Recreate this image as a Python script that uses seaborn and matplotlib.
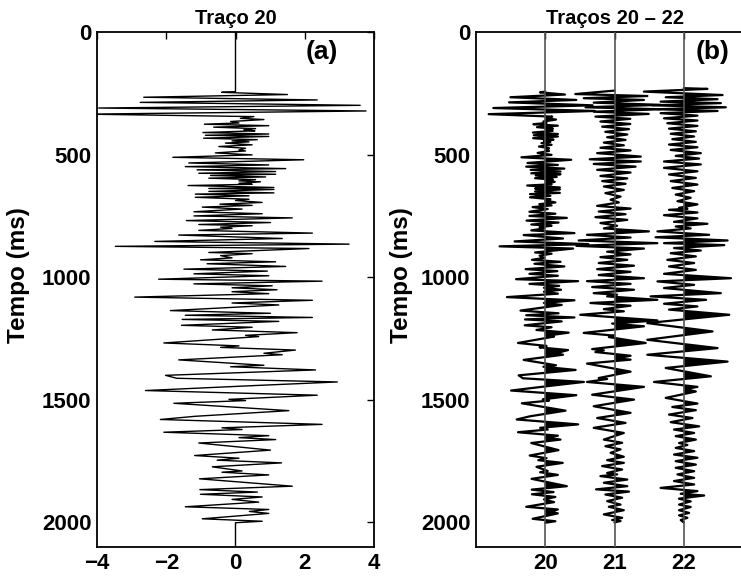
import numpy as np
import matplotlib
matplotlib.use("Agg")
import matplotlib.pyplot as plt
import seaborn as sns

# ---------------- data ----------------
# Trace 20: times (ms) and amplitudes of the wiggle turning points
t20 = [0, 243, 246, 255, 266, 277, 287, 299, 310, 322, 335,
       345, 352, 357, 365, 371, 376, 382, 388, 394, 399, 403, 410, 416, 421, 426, 433, 439, 444, 448,
       453, 460, 467, 474, 481, 485, 493, 501, 511, 521, 534, 542, 549, 557, 562, 569, 576, 580, 585,
       591, 596, 602, 607, 611, 617, 621, 626, 634, 638, 642, 650, 656, 661, 668, 674, 682, 687, 695,
       702, 707, 714, 722, 733, 741, 750, 758, 769, 777, 785, 790, 796, 801, 809, 820, 828, 842, 854,
       865, 874, 883, 899, 904, 912, 921, 929, 937, 945, 956, 967, 975, 986, 994, 1008, 1016, 1027,
       1035, 1043, 1051, 1059, 1067, 1081, 1094, 1105, 1113, 1136, 1147, 1155, 1164, 1172, 1180, 1196,
       1204, 1215, 1226, 1237, 1242, 1268, 1280, 1286, 1297, 1310, 1316, 1337, 1359, 1365, 1378, 1400,
       1412, 1427, 1442, 1462, 1481, 1498, 1503, 1514, 1544, 1567, 1580, 1600, 1614, 1621, 1632, 1646,
       1654, 1662, 1676, 1705, 1727, 1738, 1746, 1757, 1773, 1790, 1795, 1806, 1822, 1852, 1866, 1876,
       1885, 1896, 1906, 1917, 1936, 1947, 1955, 1963, 1985, 1995, 2001, 2100]
a20 = [0, 0, -0.4, 1.5, -2.65, 2.36, -2.75, 3.6, -3.95, 3.77, -4.3,
       0.53, 0.14, 0.82, -0.14, 0.1, -0.9, 0.96, -0.63, 0.58, 0.24, 0.56, -0.94, 0.96, -0.87, 0.96, -0.92, 0.63, -0.1, 0.39,
       -0.29, 0.48, -0.48, 0.29, 0.1, 0.29, -0.58, 0.48, -1.81, 1.97, -1.35, 0.96, -1.45, 1.45, -1.11, 1.16, -1.06, 1.16, -0.72,
       0.87, -0.77, 0.58, 0.1, 0.72, 0.1, 0.48, -1.37, 1.11, -0.77, 1.11, -0.77, 1.11, -1.16, 0.39, -1.16, 0.39, 0.0, 0.77,
       -0.45, 0.48, -0.96, 0.19, -1.2, 0.77, -1.2, 1.64, -1.42, 1.01, -1.06, 0.48, -0.43, -0.1, -1.06, 2.22, -1.64, 1.35, -2.33,
       3.28, -3.47, 2.12, -0.77, 0.48, -0.43, -0.1, -1.01, 1.16, -0.82, 1.45, -1.49, 0.92, -1.2, 0.96, -2.22, 2.5, -1.2,
       1.06, -0.1, 1.2, -0.1, 0.96, -2.91, 2.22, -0.1, 1.25, -1.88, 1.01, -1.45, 2.22, -1.54, 1.25, -1.56,
       0.48, -0.67, 1.78, 0.29, 0.67, -2.07, 0.1, -0.43, 1.73, 0.82, 1.35, -1.64, 0.82, -0.14, 2.31, -2.02,
       -1.7, 2.94, 0.5, -2.6, 2.36, -0.19, 0.29, -1.78, 1.54, -1.16, -2.17, 2.5, -0.39, 0.19, -2.07, 0.96,
       0.1, 1.16, -1.06, 1.01, -1.18, 0.1, -0.53, 1.33, -0.67, 0.19, -0.39, 0.96, -1.04, 1.64, -1.03, 0.63,
       -1.01, 0.77, -0.1, 0.67, -1.45, 0.96, 0.4, 0.96, -0.96, 0.77, 0, 0]

# Trace 21
t21 = [0, 239, 253, 261, 270, 277, 288, 297, 307, 315, 325, 334, 345, 354, 365, 375, 386, 396, 407, 418,
       429, 440, 451, 462, 472, 483, 494, 508, 519, 528, 538, 549, 562, 573, 587, 597, 608, 619, 630, 644,
       657, 671, 684, 695, 709, 720, 732, 743, 755, 766, 779, 790, 801, 813, 827, 838, 850, 861, 872, 883,
       896, 907, 918, 929, 942, 953, 967, 978, 991, 1004, 1016, 1027, 1040, 1051, 1065, 1071, 1078, 1092,
       1105, 1116, 1130, 1139, 1153, 1176, 1189, 1200, 1227, 1238, 1244, 1268, 1293, 1298, 1305, 1320,
       1331, 1336, 1352, 1385, 1411, 1415, 1427, 1447, 1479, 1499, 1526, 1553, 1574, 1594, 1614, 1635,
       1662, 1675, 1689, 1702, 1716, 1732, 1746, 1757, 1770, 1784, 1798, 1804, 1811, 1825, 1838, 1852,
       1865, 1874, 1886, 1899, 1913, 1927, 1936, 1950, 1967, 1981, 1990, 1994, 2000, 2100]
a21 = [0, 0, -2.98, 2.5, -2.34, 2.24, -1.58, 3.5, -2.2, 3.5, -1.58, 2.6, -1.45, 1.2, -1.07, 1.2, -0.94, 1.1, -0.7, 0.97,
       -0.56, 0.84, -0.81, 0.71, -1.07, 1.22, -1.32, 2.0, -1.88, 2.0, -1.58, 1.6, -1.32, 1.22, -1.07, 0.97, -0.94, 0.84, -0.81, 0.71,
       -0.69, 0.46, -0.3, 0.33, -1.32, 1.22, -1.2, 0.84, -1.45, 0.97, -1.07, 0.2, -0.81, 2.62, -2.09, 1.22, -2.72, 3.26, -2.9, 2.24,
       -0.56, 1.22, -1.07, 0.97, -1.2, 1.48, -1.32, 1.22, -1.2, 2.24, -2.09, 1.22, -1.7, 1.48, -1.58, 0.2, -0.56, 3.26,
       -1.83, 1.22, -0.81, 0.71, -2.6, 3.26, -0.18, 2.24, -2.34, -0.05, -0.43, 2.37, -1.7, -0.81, -1.45, 1.22,
       0.2, 1.22, -2.09, 1.22, -1.2, -0.56, -2.09, 2.24, -1.7, 1.48, -1.58, 1.22, -1.32, 0.84, -1.58, 0.71,
       -0.81, 0.58, -0.69, 0.46, -0.3, 0.71, -0.56, 0.71, -0.94, 0.58, -0.56, 0.2, -1.07, 0.97, -0.81, 0.97,
       -1.4, 1.1, -0.69, 0.58, -0.56, 0.46, -0.43, 0.71, -0.81, 0.58, -0.18, 0.46, 0, 0]

# Trace 22
t22 = [0, 229, 232, 243, 257, 266, 274, 284, 290, 299, 307, 315, 322, 331, 341, 352, 361, 372, 383, 394,
       405, 415, 426, 437, 448, 459, 470, 481, 494, 505, 516, 528, 540, 554, 568, 581, 595, 608, 622, 636,
       649, 663, 676, 690, 703, 717, 721, 725, 736, 747, 760, 774, 782, 793, 801, 813, 827, 837, 850, 861,
       869, 881, 891, 902, 915, 929, 942, 956, 970, 986, 1004, 1017, 1031, 1044, 1065, 1078, 1092, 1108,
       1119, 1132, 1153, 1187, 1221, 1255, 1289, 1316, 1344, 1370, 1404, 1427, 1447, 1456, 1466, 1492,
       1515, 1529, 1542, 1560, 1574, 1591, 1608, 1621, 1635, 1648, 1662, 1676, 1684, 1696, 1709, 1723,
       1736, 1750, 1764, 1777, 1791, 1804, 1818, 1831, 1845, 1859, 1872, 1883, 1890, 1903, 1914, 1927,
       1937, 1950, 1961, 1971, 1981, 1990, 2000, 2100]
a22 = [0, 0, 1.8, -3.03, 2.95, -1.37, 2.57, -1.76, 2.82, -2.4, 3.2, -2.0, 2.57, -1.76, 1.04, -1.5, 1.04, -1.25, 1.04, -1.12,
       0.92, -0.99, 0.79, -0.87, 0.92, -1.12, 1.04, -0.99, 1.3, -0.61, 1.17, -1.5, 1.3, -1.5, 1.04, -1.12, 0.92, -0.99, 1.04, -0.87,
       0.79, -0.61, 0.53, -0.48, 1.04, -0.36, 0.28, -1.12, 1.04, -1.5, 1.04, -0.74, 1.8, -0.61, 0.53, -2.0, 1.93, -2.14, 3.33, -1.5,
       3.08, -0.74, 1.3, -0.99, 0.92, -1.25, 0.79, -1.12, 0.92, -1.5, 3.59, -2.0, 0.79, -1.5, 2.82, -2.52, 1.7, -1.5,
       1.04, -1.12, 3.46, -2.77, 2.19, -2.77, 2.57, -2.77, 3.33, -1.37, 2.06, -2.26, 1.04, 0.15, 0.92, -1.37,
       1.04, -0.87, 0.92, -1.12, 0.66, -0.99, 1.17, -0.74, 0.79, -0.61, 0.92, -0.36, 0.28, -0.61, 0.79, -0.74,
       1.04, -0.61, 0.92, -0.61, 0.79, -0.48, 0.79, -0.74, 0.79, -1.76, 1.04, -0.23, 1.55, -0.36, 0.53, -0.36,
       0.53, -0.36, 0.41, -0.36, 0.28, -0.23, 0, 0]

trace_ids = [20, 21, 22]
wiggle_scale = 0.19
xticks_a = [-4, -2, 0, 2, 4]
xticks_b = [20, 21, 22]
yticks = [0, 500, 1000, 1500, 2000]

# ---------------- style ----------------
sns.set_style("white")
plt.rcParams["font.family"] = ["Liberation Sans", "DejaVu Sans"]
plt.rcParams["font.weight"] = "bold"
plt.rcParams["axes.labelweight"] = "bold"
plt.rcParams["axes.titleweight"] = "bold"
plt.rcParams["axes.unicode_minus"] = True
plt.rcParams["text.color"] = "black"
plt.rcParams["axes.labelcolor"] = "black"
plt.rcParams["xtick.color"] = "black"
plt.rcParams["ytick.color"] = "black"

fig = plt.figure(figsize=(7.41, 5.76), dpi=100)
W, H = 741, 576
axa = fig.add_axes([97 / W, 1 - 547 / H, 277 / W, 515 / H])
axb = fig.add_axes([476 / W, 1 - 547 / H, 277 / W, 515 / H])

# ---- panel (a) ----
sns.lineplot(x=a20, y=t20, sort=False, estimator=None, orient="y",
             color="black", linewidth=1.0, ax=axa)
axa.set_xlim(-4, 4)
axa.set_ylim(2100, 0)
axa.set_xticks(xticks_a)
axa.set_xticklabels([f"{v:d}".replace("-", "\u2212") for v in xticks_a])
axa.set_title("Traço 20", fontsize=14.5, fontweight="bold", pad=6, color="black")
axa.text(2.5, 81, "(a)", fontsize=19, fontweight="bold", ha="center", va="center", color="black")

# ---- panel (b) ----
traces = {20: (t20, a20), 21: (t21, a21), 22: (t22, a22)}
for k in trace_ids:
    tt = np.asarray(traces[k][0], dtype=float)
    aa = np.asarray(traces[k][1], dtype=float)
    xx = k + wiggle_scale * aa
    axb.fill_betweenx(tt, k, xx, where=aa > 0, interpolate=True,
                      color="black", linewidth=0)
    sl = slice(1, -1)
    sns.lineplot(x=xx[sl], y=tt[sl], sort=False, estimator=None, orient="y",
                 color="black", linewidth=1.6, ax=axb)
    axb.axvline(k, color="#555555", linewidth=1.2, zorder=3)
axb.set_xlim(19, 23)
axb.set_ylim(2100, 0)
axb.set_xticks(xticks_b)
axb.set_title("Traços 20 \u2013 22", fontsize=14.5, fontweight="bold", pad=6, color="black")
axb.text(22.42, 81, "(b)", fontsize=19, fontweight="bold", ha="center", va="center", color="black")

label_x = {0: -0.242, 1: -0.227}
for i, ax in enumerate((axa, axb)):
    ax.set_yticks(yticks)
    ax.set_ylabel("Tempo (ms)", fontsize=17.5, fontweight="bold", color="black")
    ax.yaxis.set_label_coords(label_x[i], 0.528)
    ax.set_xlabel("")
    ax.tick_params(direction="in", length=5, width=1, top=True, right=True,
                   labelsize=16, pad=4, colors="black")
    for lab in ax.get_xticklabels() + ax.get_yticklabels():
        lab.set_fontweight("bold")
    for s in ax.spines.values():
        s.set_visible(True)
        s.set_color("black")
        s.set_linewidth(1.3)

fig.savefig("out.png", dpi=100)
